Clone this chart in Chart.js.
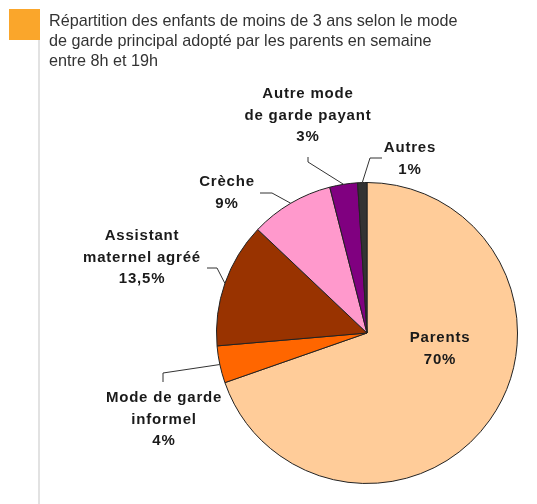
<!DOCTYPE html>
<html>
<head>
<meta charset="utf-8">
<script src="https://cdn.jsdelivr.net/npm/chart.js@4"></script>
<style>
  body { margin: 0; background: #fff; }
  #wrap { position: relative; width: 537px; height: 504px; overflow: hidden; }
  #pie { position: absolute; left: 0; top: 0; }
  #square { position: absolute; left: 9px; top: 9px; width: 31px; height: 31px; background: #faa62b; }
  #rule { position: absolute; left: 38px; top: 40px; width: 2px; height: 464px; background: #e2e2e2; }
  #title { position: absolute; left: 49px; top: 10px; font: 16.2px "Liberation Sans", Arial, sans-serif; line-height: 20px; color: #333; white-space: nowrap; }
</style>
</head>
<body>
<div id="wrap">
  <canvas id="pie" width="537" height="504"></canvas>
  <div id="square"></div>
  <div id="rule"></div>
  <div id="title">Répartition des enfants de moins de 3 ans selon le mode<br>de garde principal adopté par les parents en semaine<br>entre 8h et 19h</div>
</div>
<script>
// categories, clockwise from 12 o'clock
const categories = ['Parents', 'Mode de garde\ninformel', 'Assistant\nmaternel agréé', 'Crèche', 'Autre mode\nde garde payant', 'Autres'];
const shares = [70, 4, 13.5, 9, 3, 1];
const sliceColors = ['#ffcc99', '#ff6600', '#993300', '#ff99cc', '#800080', '#333333'];

// label placement relative to pie centre: text centre / first baseline, then leader elbow and end
const labelPlacement = [
    { dx: 73, dy: 9, leader: null },
    { dx: -203, dy: 69, leader: [[-204, 40], [-204, 49]] },
    { dx: -225, dy: -93, leader: [[-150, -65], [-160, -65]] },
    { dx: -140, dy: -147, leader: [[-95, -140], [-107, -140]] },
    { dx: -59, dy: -235, leader: [[-59, -171], [-59, -176]] },
    { dx: 43, dy: -181, leader: [[3, -175], [15, -175]] }
];

const pctText = v => String(v).replace('.', ',') + '%';

const labelPlugin = {
    id: 'sliceLabels',
    afterDraw(chart) {
        const ctx = chart.ctx;
        const meta = chart.getDatasetMeta(0);
        ctx.save();
        meta.data.forEach((arc, i) => {
            const p = arc.getProps(['x', 'y', 'startAngle', 'endAngle', 'outerRadius']);
            const place = labelPlacement[i];
            if (place.leader) {
                const mid = (p.startAngle + p.endAngle) / 2;
                ctx.beginPath();
                ctx.moveTo(p.x + Math.cos(mid) * p.outerRadius, p.y + Math.sin(mid) * p.outerRadius);
                place.leader.forEach(pt => ctx.lineTo(p.x + pt[0], p.y + pt[1]));
                ctx.strokeStyle = '#333';
                ctx.lineWidth = 1;
                ctx.stroke();
            }
            const lines = categories[i].split('\n').concat(pctText(shares[i]));
            ctx.font = 'bold 15px "Liberation Sans", Arial, sans-serif';
            ctx.letterSpacing = '0.8px';
            ctx.fillStyle = '#1a1a1a';
            ctx.textAlign = 'center';
            ctx.textBaseline = 'alphabetic';
            lines.forEach((line, k) => {
                ctx.fillText(line, p.x + place.dx, p.y + place.dy + k * 21.5);
            });
        });
        ctx.restore();
    }
};

new Chart(document.getElementById('pie').getContext('2d'), {
    type: 'pie',
    data: {
        labels: categories.map(c => c.replace('\n', ' ')),
        datasets: [{
            data: shares,
            backgroundColor: sliceColors,
            borderColor: '#222',
            borderWidth: 1
        }]
    },
    options: {
        responsive: false,
        animation: false,
        layout: { padding: { left: 216, top: 182, right: 19, bottom: 20 } },
        plugins: {
            legend: { display: false },
            tooltip: { enabled: false }
        }
    },
    plugins: [labelPlugin]
});
</script>
</body>
</html>
